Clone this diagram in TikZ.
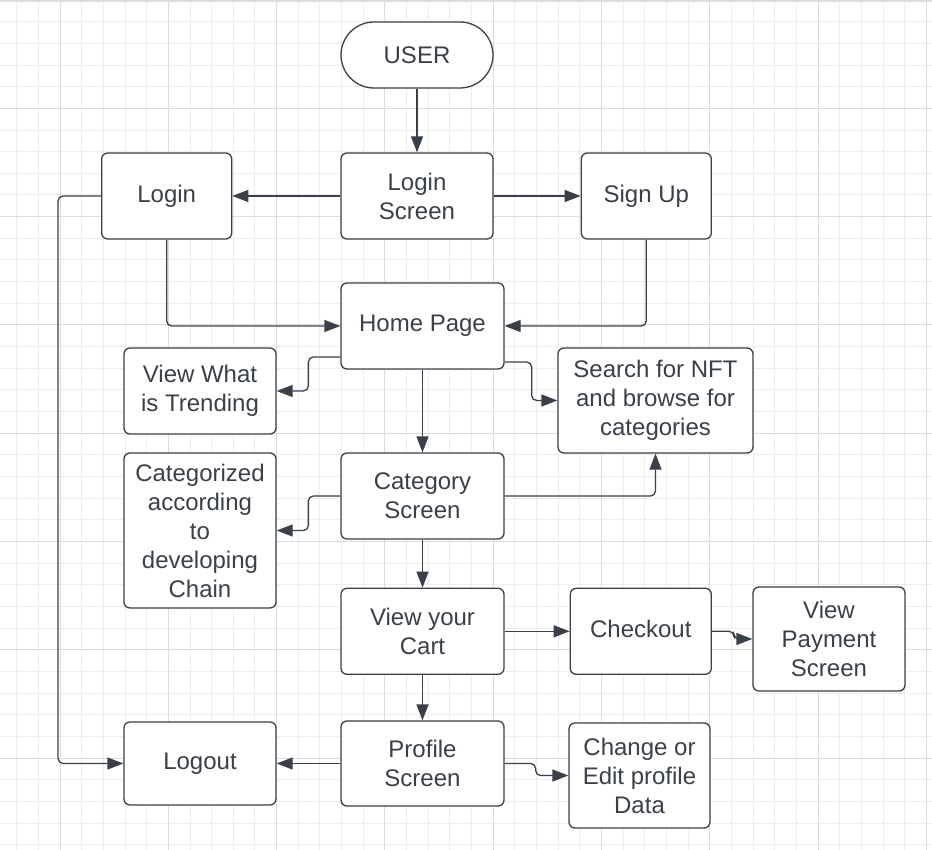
\documentclass[tikz,border=0pt]{standalone}
\usepackage{fontspec}
\setmainfont{Liberation Sans}
\usetikzlibrary{arrows.meta, positioning}

\definecolor{ink}{HTML}{3A4049}
\definecolor{gridmin}{HTML}{EDEDED}
\definecolor{gridmaj}{HTML}{DCDCDC}

\tikzset{
	box/.style={draw=ink, line width=1.3pt, fill=white, rounded corners=6pt, align=center,
		text=ink, inner sep=0pt, font=\fontsize{24}{29}\selectfont},
	flow/.style={color=ink, line width=1.3pt, rounded corners=5pt, -{Triangle[length=16pt, width=12pt]}},
	jog/.style={to path={-- ++(#1,0) |- (\tikztotarget)}},
	elbowv/.style={to path={|- (\tikztotarget)}},
	elbowh/.style={to path={-| (\tikztotarget)}},
}

\begin{document}
\begin{tikzpicture}[x=1pt, y=-1pt]
	\useasboundingbox (0,0) rectangle (932,850);
	\fill[white] (0,0) rectangle (932,850);
	% grid
	\foreach \k in {-2,...,40}
		\draw[gridmin, line width=0.9pt] ({60+21.66*\k},0) -- ++(0,850);
	\foreach \k in {1,...,39}
		\draw[gridmin, line width=0.9pt] (0,{21.66*\k}) -- ++(932,0);
	\foreach \k in {0,...,8}
		\draw[gridmaj, line width=0.9pt] ({60+108.3*\k},0) -- ++(0,850);
	\foreach \k in {1,...,7}
		\draw[gridmaj, line width=0.9pt] (0,{108.3*\k}) -- ++(932,0);
	\fill[gridmaj] (0,0) rectangle (932,2.5);

	\node[box, minimum width=152pt, minimum height=66pt, rounded corners=33pt] (user) at (417,55) {USER};
	\node[box, minimum width=152pt, minimum height=86pt] (lscreen) at (417,196) {Login\\Screen};
	\node[box, minimum width=130pt, minimum height=86pt] (login) [left=108pt of lscreen] {Login};
	\node[box, minimum width=130pt, minimum height=86pt] (signup) [right=87pt of lscreen] {Sign Up};
	\node[box, minimum width=163pt, minimum height=86pt] (home) at (422.5,326) {Home Page};
	\node[box, minimum width=152pt, minimum height=86pt] (trend) at (200,391) {View What\\is Trending};
	\node[box, minimum width=195pt, minimum height=105pt] (search) at (655.5,400.5) {Search for NFT\\and browse for\\categories};
	\node[box, minimum width=163pt, minimum height=86pt] (catscr) at (422.5,496) {Category\\Screen};
	\node[box, minimum width=152pt, minimum height=155pt] (chain) at (200,530.5) {Categorized\\according\\to\\developing\\Chain};
	\node[box, minimum width=163pt, minimum height=86pt] (cart) [below=48pt of catscr] {View your\\Cart};
	\node[box, minimum width=141pt, minimum height=86pt] (checkout) [right=65pt of cart] {\raisebox{4pt}{Checkout}};
	\node[box, minimum width=152pt, minimum height=104pt] (payment) at (829,639) {View\\Payment\\Screen};
	\node[box, minimum width=163pt, minimum height=85pt] (profile) at (422.5,763.5) {Profile\\Screen};
	\node[box, minimum width=152pt, minimum height=83pt] (logout) at (200,763.5) {Logout};
	\node[box, minimum width=141pt, minimum height=105pt] (editprof) at (639.5,775.5) {Change or\\Edit profile\\Data};

	\path[flow]
		(user) edge (lscreen)
		(lscreen) edge (login)
		(lscreen) edge (signup)
		(login) edge[elbowv] (home)
		(signup) edge[elbowv] (home)
		([yshift=-31pt]home.west) edge[jog=-32pt] (trend)
		([yshift=-36pt]home.east) edge[jog=27pt] (search)
		(home) edge (catscr)
		(catscr.west) edge[jog=-32pt] (chain)
		(catscr) edge[elbowh] (search)
		(catscr) edge (cart)
		(cart) edge (checkout)
		(checkout.east) edge[jog=22pt] (payment)
		(cart) edge (profile)
		(profile) edge (logout)
		(profile.east) edge[jog=31pt] (editprof)
		(login.west) edge[jog=-43pt] (logout)
	;
\end{tikzpicture}
\end{document}
